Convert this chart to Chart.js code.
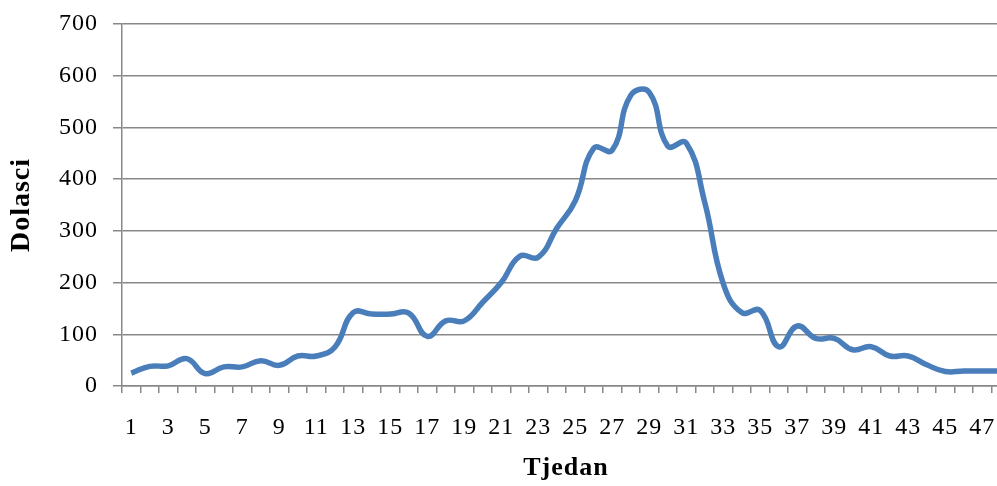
<!DOCTYPE html>
<html>
<head>
<meta charset="utf-8">
<script src="https://cdn.jsdelivr.net/npm/chart.js@4.4.1/dist/chart.umd.min.js"></script>
<style>
  html, body { margin: 0; padding: 0; background: #ffffff; overflow: hidden; }
  #wrap { position: absolute; left: 0; top: 0; width: 1020px; height: 486px; }
</style>
</head>
<body>
<div id="wrap"><canvas id="weeklyChart"></canvas></div>
<script>
// Weeks on the x axis (the right end runs past the picture edge)
const weeks = ['1', '2', '3', '4', '5', '6', '7', '8', '9', '10', '11', '12',
    '13', '14', '15', '16', '17', '18', '19', '20', '21', '22', '23', '24',
    '25', '26', '27', '28', '29', '30', '31', '32', '33', '34', '35', '36',
    '37', '38', '39', '40', '41', '42', '43', '44', '45', '46', '47', '48'];

// Arrivals per week
const arrivals = [25, 38, 39, 53, 24, 37, 37, 49, 40, 58, 58, 75,
    142, 139, 139, 141, 96, 126, 126, 162, 200, 251, 249, 305,
    358, 460, 456, 562, 568, 464, 470, 355, 198, 142, 146, 76,
    116, 92, 92, 70, 76, 58, 58, 41, 28, 29, 29, 29];

// Y axis ticks
const yTicks = [0, 100, 200, 300, 400, 500, 600, 700];

const gridColor = '#888888';
const serif = "'Liberation Serif', 'Times New Roman', serif";

// Excel draws Times a bit wider, open the letters up slightly
const spacingPlugin = {
    id: 'spacing',
    beforeDraw(chart) {
        chart.ctx.letterSpacing = '1px';
    }
};

document.addEventListener('DOMContentLoaded', function() {
    const ctx = document.getElementById('weeklyChart').getContext('2d');

    new Chart(ctx, {
        type: 'line',
        data: {
            labels: weeks,
            datasets: [{
                label: 'Dolasci',
                data: arrivals,
                borderColor: '#4a7ebb',
                borderWidth: 5.5,
                pointRadius: 0,
                tension: 0.45,
                fill: false
            }]
        },
        plugins: [spacingPlugin],
        options: {
            responsive: true,
            maintainAspectRatio: false,
            animation: false,
            layout: {
                padding: { left: 0, top: 24, right: 10, bottom: 0 }
            },
            plugins: {
                legend: { display: false },
                tooltip: { enabled: false }
            },
            scales: {
                x: {
                    offset: true,
                    grid: {
                        offset: true,
                        drawOnChartArea: false,
                        tickLength: 7,
                        color: gridColor,
                        lineWidth: 1.5
                    },
                    border: { color: gridColor, width: 1.5 },
                    ticks: {
                        autoSkip: false,
                        maxRotation: 0,
                        padding: 20,
                        color: '#000000',
                        font: { family: serif, size: 24 },
                        callback: function(value, index) {
                            return index % 2 === 0 ? weeks[index] : '';
                        }
                    },
                    title: {
                        display: true,
                        text: 'Tjedan',
                        color: '#000000',
                        font: { family: serif, size: 26, weight: 'bold' },
                        padding: { top: 0, bottom: 2 }
                    },
                    afterFit: function(scale) {
                        // fixed axis height, no extra side padding from the labels
                        scale.height = 100;
                        scale.paddingLeft = 0;
                        scale.paddingRight = 0;
                    }
                },
                y: {
                    min: 0,
                    max: 700,
                    afterBuildTicks: function(scale) {
                        scale.ticks = yTicks.map(function(v) { return { value: v }; });
                    },
                    grid: {
                        color: gridColor,
                        lineWidth: 1.5,
                        tickLength: 9
                    },
                    border: { color: gridColor, width: 1.5 },
                    ticks: {
                        padding: 15,
                        color: '#000000',
                        font: { family: serif, size: 24 }
                    },
                    title: {
                        display: true,
                        text: 'Dolasci',
                        color: '#000000',
                        font: { family: serif, size: 28, weight: 'bold' },
                        padding: { top: 5, bottom: 0 }
                    },
                    afterFit: function(scale) {
                        scale.width = 122;
                        scale.paddingTop = 0;
                        scale.paddingBottom = 0;
                    }
                }
            }
        }
    });
});
</script>
</body>
</html>
